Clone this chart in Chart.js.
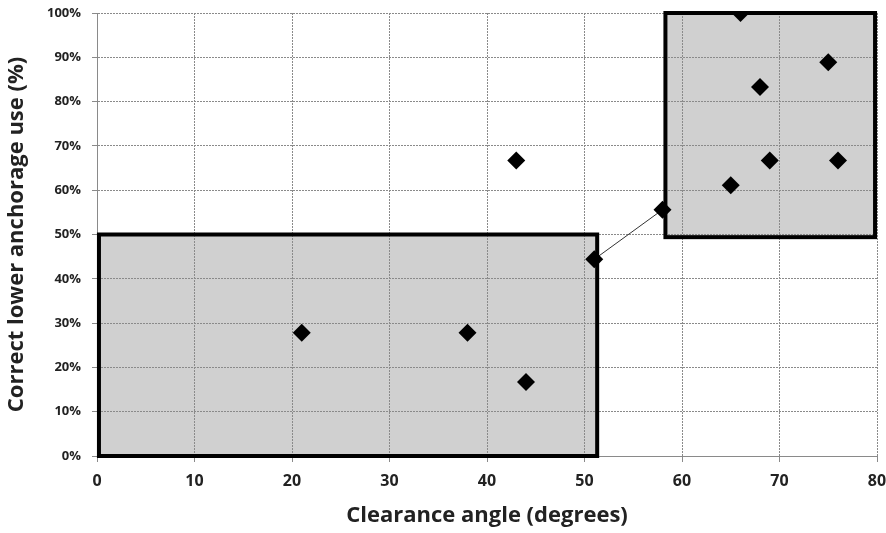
<!DOCTYPE html>
<html>
<head>
<meta charset="utf-8">
<script src="https://cdn.jsdelivr.net/npm/chart.js@4"></script>
<style>
  html, body { margin: 0; padding: 0; background: #fff; }
  #wrap { width: 886px; height: 533px; }
</style>
</head>
<body>
<div id="wrap"><canvas id="chart"></canvas></div>
<script>
// angle (deg) vs correct use (%)
const angles = [21, 38, 43, 44, 51, 58, 65, 66, 68, 69, 75, 76];
const correctUse = [27.8, 27.8, 66.7, 16.7, 44.4, 55.6, 61.1, 100, 83.3, 66.7, 88.9, 66.7];

// the two shaded groups: [xMin, xMax, yMin, yMax]
const groupLow = [0.2, 51.3, 0, 50];
const groupHigh = [58.3, 79.8, 49.4, 100];
const groups = [groupLow, groupHigh];

// connector between the two groups
const linkX = [51, 58];
const linkY = [44.4, 55.6];

const xTicks = [0, 10, 20, 30, 40, 50, 60, 70, 80];
const yTicks = [0, 10, 20, 30, 40, 50, 60, 70, 80, 90, 100];

const FONT = '"Open Sans", sans-serif';

function boxPx(chart, g) {
    const x = chart.scales.x, y = chart.scales.y;
    const l = x.getPixelForValue(g[0]), r = x.getPixelForValue(g[1]);
    const b = y.getPixelForValue(g[2]), t = y.getPixelForValue(g[3]);
    return { l, r, t, b };
}

const boxes = {
    id: 'boxes',
    beforeDraw(chart) {
        const ctx = chart.ctx;
        ctx.save();
        ctx.fillStyle = '#d0d0d0';
        groups.forEach(g => {
            const p = boxPx(chart, g);
            ctx.fillRect(p.l, p.t, p.r - p.l, p.b - p.t);
        });
        ctx.restore();
    },
    beforeDatasetsDraw(chart) {
        const ctx = chart.ctx;
        ctx.save();
        ctx.strokeStyle = '#000';
        ctx.lineWidth = 4;
        groups.forEach(g => {
            const p = boxPx(chart, g);
            ctx.strokeRect(p.l, p.t, p.r - p.l, p.b - p.t);
        });
        ctx.restore();
    }
};

const ctx = document.getElementById('chart').getContext('2d');
new Chart(ctx, {
    type: 'scatter',
    data: {
        datasets: [
            {
                data: angles.map((a, i) => ({ x: a, y: correctUse[i] })),
                pointStyle: 'rectRot',
                pointRadius: 9,
                pointHoverRadius: 9,
                backgroundColor: '#000',
                borderColor: '#000',
                borderWidth: 0
            },
            {
                data: linkX.map((a, i) => ({ x: a, y: linkY[i] })),
                showLine: true,
                pointRadius: 0,
                borderColor: '#333',
                borderWidth: 1
            }
        ]
    },
    plugins: [boxes],
    options: {
        responsive: true,
        maintainAspectRatio: false,
        animation: false,
        layout: { padding: { top: 13, right: 9, left: 0, bottom: 0 } },
        plugins: { legend: { display: false }, tooltip: { enabled: false } },
        scales: {
            x: {
                type: 'linear', min: 0, max: 80,
                afterBuildTicks: s => { s.ticks = xTicks.map(v => ({ value: v })); },
                afterFit: s => { s.height = 77; s.paddingRight = 0; s.paddingLeft = 0; },
                grid: { color: '#8a8a8a', tickLength: 6, tickColor: '#8a8a8a' },
                border: { color: '#8a8a8a', dash: [2, 1] },
                ticks: { padding: 10, color: '#222', font: { family: FONT, size: 16, weight: 'bold' } },
                title: {
                    display: true, text: 'Clearance angle (degrees)', color: '#222',
                    font: { family: FONT, size: 22, weight: 'bold' }, padding: { top: 4 }
                }
            },
            y: {
                type: 'linear', min: 0, max: 100,
                afterBuildTicks: s => { s.ticks = yTicks.map(v => ({ value: v })); },
                afterFit: s => { s.width = 97; s.paddingTop = 0; s.paddingBottom = 0; },
                grid: { color: '#8a8a8a', tickLength: 5, tickColor: '#8a8a8a' },
                border: { color: '#8a8a8a', dash: [2, 1] },
                ticks: {
                    padding: 11, color: '#222',
                    font: { family: FONT, size: 13, weight: 'bold' },
                    callback: v => v + '%'
                },
                title: {
                    display: true, text: 'Correct lower anchorage use (%)', color: '#222',
                    font: { family: FONT, size: 22, weight: 'bold' }, padding: { top: 4, bottom: 4 }
                }
            }
        }
    }
});
</script>
</body>
</html>
